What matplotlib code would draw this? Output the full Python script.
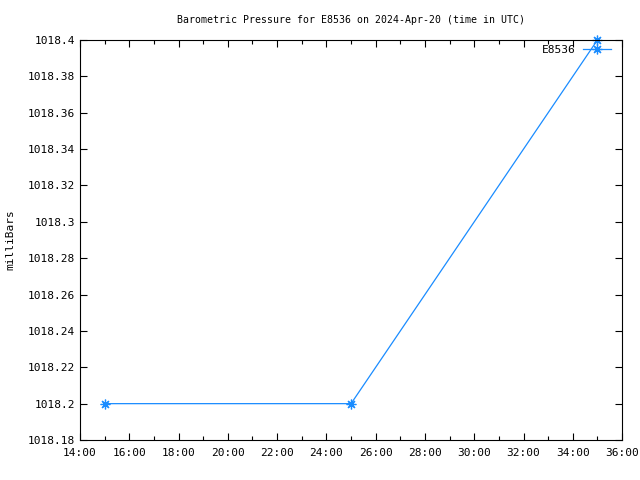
import matplotlib
matplotlib.use('Agg')
import matplotlib.pyplot as plt
from matplotlib.ticker import FuncFormatter, MultipleLocator

plt.rcParams['font.family'] = 'DejaVu Sans Mono'
plt.rcParams['font.size'] = 8

# 数据：时间（小时，UTC，超过24表示次日）和气压
hours = [15, 25, 35]
pressure = [1018.2, 1018.2, 1018.4]
station = 'E8536'

fig = plt.figure(figsize=(6.4, 4.8), dpi=100)
ax = fig.add_axes([0.125, 0.0833, 0.847, 0.8334])

# gnuplot 风格的星号点（+ 和 x 叠加）
ax.plot(hours, pressure, color='#1a8cff', linewidth=0.9, marker=(8, 2, 0),
        markersize=7, markeredgewidth=0.9, label=station, clip_on=False)

ax.set_xlim(14, 36)
ax.set_ylim(1018.18, 1018.4)
ax.xaxis.set_major_locator(MultipleLocator(2))
ax.xaxis.set_minor_locator(MultipleLocator(1))
ax.yaxis.set_major_locator(MultipleLocator(0.02))
ax.xaxis.set_major_formatter(FuncFormatter(lambda v, p: '%d:00' % v))
ax.yaxis.set_major_formatter(FuncFormatter(lambda v, p: ('%.2f' % v).rstrip('0').rstrip('.')))

ax.tick_params(which='both', direction='in', top=True, right=True, length=5, width=0.8, color='black')
ax.tick_params(which='minor', length=3)
ax.tick_params(axis='x', which='major', pad=6)
for s in ax.spines.values():
    s.set_linewidth(0.8)

ax.set_title('Barometric Pressure for %s on 2024-Apr-20 (time in UTC)' % station, fontsize=7.1, pad=12)
ax.set_ylabel('milliBars', labelpad=9)

ax.legend(loc='upper right', frameon=False, markerfirst=False, handlelength=2.5,
          handletextpad=0.6, borderaxespad=0.2, fontsize=8,
          bbox_to_anchor=(0.991, 1.005))

plt.savefig('out.png')
plt.close()
